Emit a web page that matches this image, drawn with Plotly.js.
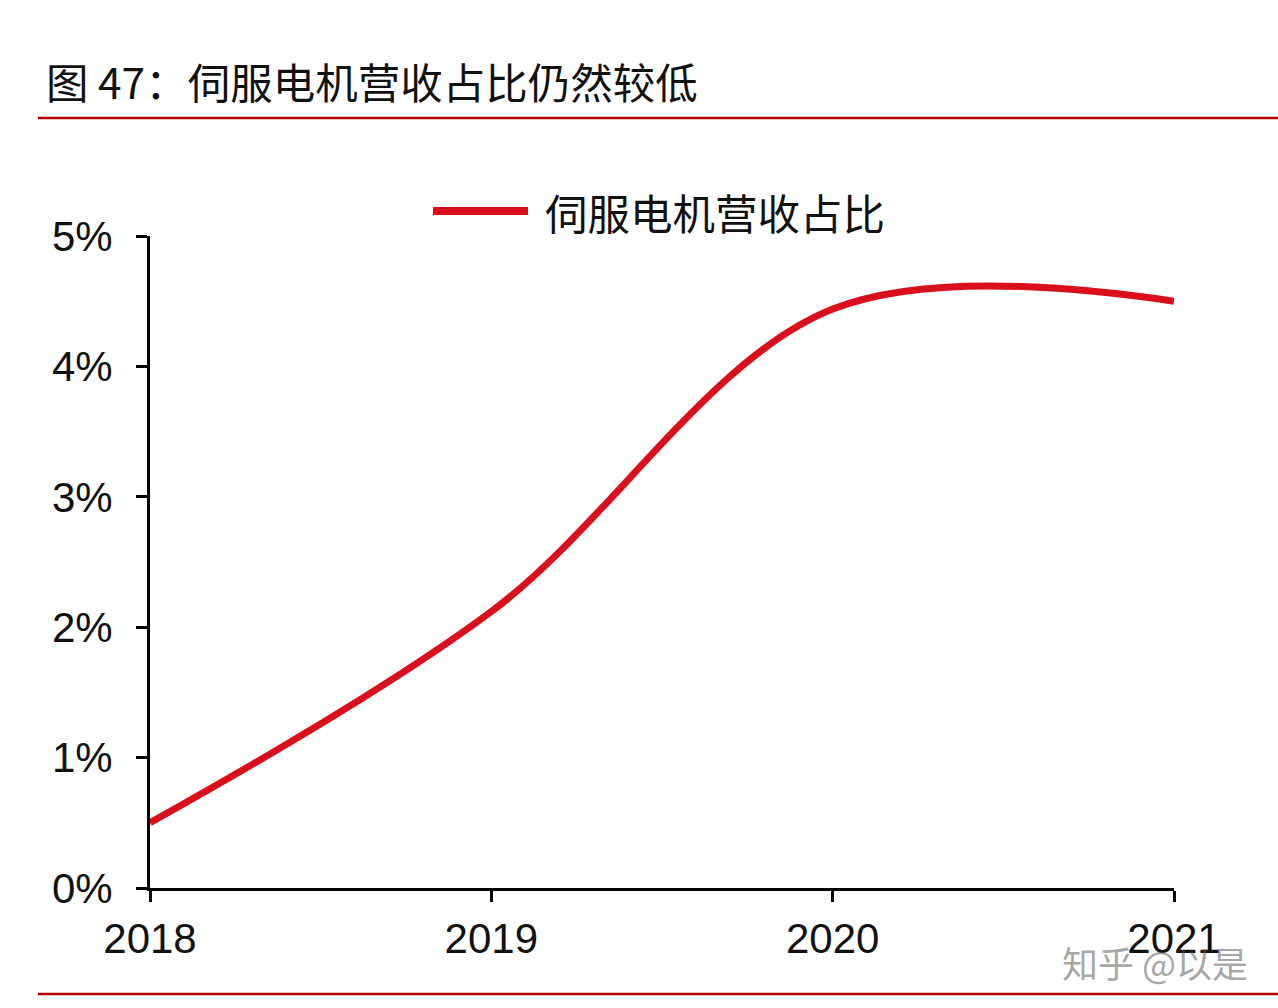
<!DOCTYPE html>
<html>
<head>
<meta charset="utf-8">
<script src="https://cdn.plot.ly/plotly-3.0.1.min.js"></script>
<style>
  html, body { margin: 0; padding: 0; background: #ffffff; }
  #chart { width: 1278px; height: 1008px; }
</style>
</head>
<body>
<div id="chart"></div>
<script>
// Data
const years = [2018, 2019, 2020, 2021];
const shareValues = [0.5, 2.12, 4.44, 4.5]; // 伺服电机营收占比 (%)
const seriesName = '伺服电机营收占比';
const chartTitle = '图 47：伺服电机营收占比仍然较低';
const yTicks = [0, 1, 2, 3, 4, 5];
const yTickLabels = ['0%', '1%', '2%', '3%', '4%', '5%'];
const xTicks = [2018, 2019, 2020, 2021];
const xTickLabels = ['2018', '2019', '2020', '2021'];
const watermark = '知乎 @以是';

const latin = '"Liberation Sans", Arial, sans-serif';
const cjk = '"Noto Sans CJK SC", "Liberation Sans", sans-serif';
const red = '#d9101c';

const trace = {
  x: years,
  y: shareValues,
  type: 'scatter',
  mode: 'lines',
  name: seriesName,
  line: { color: red, width: 7, shape: 'spline', smoothing: 1 },
  cliponaxis: false,
  showlegend: false,
  hoverinfo: 'x+y'
};

const layout = {
  width: 1278,
  height: 1008,
  paper_bgcolor: '#ffffff',
  plot_bgcolor: '#ffffff',
  margin: { l: 150, r: 104, t: 236, b: 120 },
  title: {
    text: chartTitle,
    font: { family: cjk, size: 42.5, color: '#111111' },
    xref: 'container', yref: 'container',
    x: 46 / 1278, xanchor: 'left',
    y: 1 - 84 / 1008, yanchor: 'middle'
  },
  xaxis: {
    range: [2018, 2021],
    tickmode: 'array',
    tickvals: xTicks,
    ticktext: xTickLabels,
    showgrid: false,
    zeroline: false,
    showline: true,
    linecolor: '#000000',
    linewidth: 3,
    ticks: 'outside',
    ticklen: 11,
    tickwidth: 3,
    tickcolor: '#000000',
    ticklabelstandoff: 1,
    tickfont: { family: latin, size: 42, color: '#111111' }
  },
  yaxis: {
    range: [0, 5],
    tickmode: 'array',
    tickvals: yTicks,
    ticktext: yTickLabels,
    showgrid: false,
    zeroline: false,
    showline: true,
    linecolor: '#000000',
    linewidth: 3,
    ticks: 'outside',
    ticklen: 11,
    tickwidth: 3,
    tickcolor: '#000000',
    ticklabelstandoff: 15,
    tickfont: { family: latin, size: 42, color: '#111111' }
  },
  shapes: [
    // title rule
    { type: 'line', xref: 'paper', yref: 'paper',
      x0: (38 - 150) / 1024, x1: (1278 - 150) / 1024,
      y0: (888 - 118) / 652, y1: (888 - 118) / 652,
      line: { color: '#b00000', width: 2.5 } },
    // bottom rule
    { type: 'line', xref: 'paper', yref: 'paper',
      x0: (38 - 150) / 1024, x1: (1278 - 150) / 1024,
      y0: (888 - 994) / 652, y1: (888 - 994) / 652,
      line: { color: '#b00000', width: 2.5 } },
    // legend swatch
    { type: 'line', xref: 'paper', yref: 'paper',
      x0: (433 - 150) / 1024, x1: (528 - 150) / 1024,
      y0: (888 - 211) / 652, y1: (888 - 211) / 652,
      line: { color: red, width: 8 } }
  ],
  annotations: [
    { text: seriesName, xref: 'paper', yref: 'paper',
      x: (543 - 150) / 1024, y: (888 - 211) / 652,
      xanchor: 'left', yanchor: 'middle', showarrow: false,
      font: { family: cjk, size: 42.5, color: '#111111' } },
    { text: watermark, xref: 'paper', yref: 'paper',
      x: (1250 - 150) / 1024, y: (888 - 962) / 652,
      xanchor: 'right', yanchor: 'middle', showarrow: false,
      font: { family: cjk, size: 36, color: 'rgba(90,90,90,0.55)' } }
  ]
};

Plotly.newPlot('chart', [trace], layout, { displayModeBar: false, staticPlot: true });
</script>
</body>
</html>
